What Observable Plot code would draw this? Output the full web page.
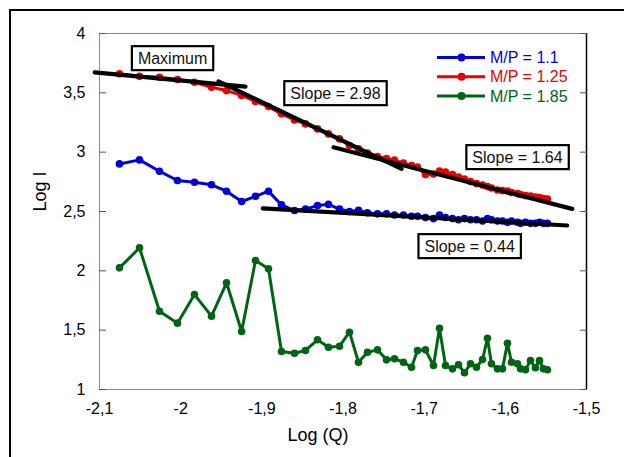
<!DOCTYPE html>
<html><head><meta charset="utf-8">
<script src="https://cdn.jsdelivr.net/npm/d3@7"></script>
<script src="https://cdn.jsdelivr.net/npm/@observablehq/plot@0.6"></script>
<style>
html,body{margin:0;padding:0;background:#fff;overflow:hidden;width:624px;height:457px}
#wrap{position:relative;width:624px;height:457px;font-family:"Liberation Sans",Arial,sans-serif}
#border{position:absolute;left:9px;top:9px;width:700px;height:520px;border-left:2px solid #000;border-top:2px solid #000;pointer-events:none}
#legend{position:absolute;left:0;top:0}
</style></head><body><div id="wrap"></div>
<script>
// Log(Q) positions shared by all three series
const logQ = [-2.0754,-2.0507,-2.0261,-2.0039,-1.9830,-1.9620,-1.9435,-1.9249,-1.9078,-1.8918,
  -1.8758,-1.8598,-1.8462,-1.8314,-1.8179,-1.8043,-1.7920,-1.7809,-1.7698,-1.7575,
  -1.7464,-1.7366,-1.7255,-1.7156,-1.7082,-1.6984,-1.6885,-1.6811,-1.6737,-1.6651,
  -1.6577,-1.6503,-1.6429,-1.6355,-1.6281,-1.6220,-1.6171,-1.6097,-1.6035,-1.5974,
  -1.5924,-1.5851,-1.5813,-1.5752,-1.5690,-1.5629,-1.5579,-1.5530,-1.5481];
const series = ["M/P = 1.1","M/P = 1.25","M/P = 1.85"];
const colors = ["#0000dc","#e60000","#006414"];
const logI_11 = [2.901,2.935,2.839,2.761,2.746,2.725,2.671,2.584,2.628,2.671,
  2.556,2.508,2.52,2.55,2.56,2.52,2.50,2.51,2.49,2.48,
  2.48,2.47,2.47,2.46,2.46,2.45,2.44,2.47,2.45,2.44,
  2.43,2.44,2.43,2.43,2.42,2.44,2.43,2.42,2.42,2.41,
  2.42,2.41,2.40,2.41,2.40,2.40,2.41,2.40,2.40];
const logI_125 = [3.660,3.639,3.631,3.612,3.589,3.547,3.519,3.478,3.427,3.384,
  3.323,3.272,3.238,3.196,3.154,3.112,3.056,3.028,2.992,2.963,
  2.946,2.933,2.908,2.887,2.874,2.811,2.816,2.841,2.832,2.811,
  2.790,2.773,2.752,2.735,2.723,2.710,2.698,2.681,2.676,2.672,
  2.660,2.651,2.643,2.634,2.630,2.622,2.618,2.609,2.605];
const logI_185 = [2.025,2.194,1.660,1.559,1.800,1.618,1.899,1.489,2.087,2.017,
  1.320,1.306,1.329,1.419,1.356,1.365,1.483,1.230,1.314,1.334,
  1.250,1.259,1.230,1.188,1.329,1.334,1.202,1.516,1.202,1.174,
  1.208,1.141,1.217,1.188,1.253,1.432,1.217,1.174,1.174,1.390,
  1.230,1.217,1.174,1.166,1.244,1.183,1.244,1.174,1.166];
const xTicks = [-2.1,-2,-1.9,-1.8,-1.7,-1.6,-1.5];
const yTicks = [1,1.5,2,2.5,3,3.5,4];
// fitted straight lines (endpoints)
const fitNames = ["max","s298","s164","s044"];
const fitX = [[-2.106,-1.9201],[-1.9534,-1.7279],[-1.8117,-1.5176],[-1.8988,-1.5238]];
const fitY = [[3.672,3.553],[3.597,2.859],[3.041,2.522],[2.527,2.382]];
const annText = ["Maximum","Slope = 2.98","Slope = 1.64","Slope = 0.44"];
const annX = [-2.010,-1.8093,-1.585,-1.644];
const annY = [3.789,3.494,2.955,2.205];

const allI = [logI_11, logI_125, logI_185];
const rows = [];
series.forEach((s,k)=>logQ.forEach((q,i)=>rows.push({series:s,x:q,y:allI[k][i]})));
const fitRows = [];
fitNames.forEach((n,k)=>fitX[k].forEach((x,i)=>fitRows.push({id:n,x,y:fitY[k][i]})));
const ann = annText.map((t,i)=>({text:t,x:annX[i],y:annY[i]}));
const fmt = d => String(d).replace(".", ",");
const font = "'Liberation Sans', Arial, sans-serif";

const plot = Plot.plot({
  width: 624, height: 457,
  marginLeft: 99, marginRight: 38, marginTop: 33, marginBottom: 68,
  style: {fontFamily: font, background: "transparent", color: "#000"},
  x: {domain: [-2.1, -1.5]},
  y: {domain: [1, 4]},
  color: {domain: series, range: colors},
  marks: [
    Plot.frame({stroke: "#8c8c8c"}),
    Plot.ruleX([xTicks[xTicks.length-1]], {stroke: "#000", strokeWidth: 1.5}),
    Plot.axisY({ticks: yTicks, tickFormat: fmt, tickSize: -7, tickPadding: 21, fontSize: 16, stroke: "#555", label: null}),
    Plot.axisY({anchor: "right", ticks: yTicks, tickSize: -7, text: null, stroke: "#555", label: null}),
    Plot.axisX({ticks: xTicks, tickFormat: fmt, tickSize: 0, tickPadding: 13, fontSize: 16, label: null}),
    Plot.text(["Log I"], {frameAnchor: "left", dx: -59, rotate: -90, fontSize: 18}),
    Plot.text(["Log (Q)"], {frameAnchor: "bottom", dx: -25, dy: 51, fontSize: 18}),
    Plot.line(rows, {x: "x", y: "y", z: "series", stroke: "series", strokeWidth: 3, curve: "linear"}),
    Plot.dot(rows, {x: "x", y: "y", fill: "series", r: 3.8}),
    Plot.line(fitRows, {x: "x", y: "y", z: "id", stroke: "#000", strokeWidth: 4.2, clip: false}),
    Plot.text(ann, {x: "x", y: "y", text: "text", fontSize: 16, fill: "#111"})
  ]
});
const wrap = document.getElementById("wrap");
wrap.appendChild(plot);

// boxes around annotation texts
plot.querySelectorAll("text").forEach(t => {
  if (!annText.includes(t.textContent)) return;
  const b = t.getBBox();
  const r = document.createElementNS("http://www.w3.org/2000/svg","rect");
  r.setAttribute("x", b.x - 6); r.setAttribute("y", b.y - 3.5);
  r.setAttribute("width", b.width + 12); r.setAttribute("height", b.height + 7);
  r.setAttribute("fill", "#fff"); r.setAttribute("stroke", "#000"); r.setAttribute("stroke-width", 2.2);
  if (t.getAttribute("transform")) r.setAttribute("transform", t.getAttribute("transform"));
  t.parentNode.insertBefore(r, t);
});

// legend overlay
const leg = d3.select(wrap).append("svg").attr("id","legend").attr("width",624).attr("height",457);
series.forEach((s,i)=>{
  const y = 57.5 + i*19.2;
  const gg = leg.append("g");
  gg.append("line").attr("x1",437).attr("x2",485).attr("y1",y).attr("y2",y).attr("stroke",colors[i]).attr("stroke-width",3);
  gg.append("circle").attr("cx",461.5).attr("cy",y).attr("r",4).attr("fill",colors[i]);
  gg.append("text").attr("x",490).attr("y",y).attr("dy","0.35em").attr("fill",colors[i])
    .attr("font-family",font).attr("font-size",16).text(s);
});
const bd = document.createElement("div"); bd.id = "border"; wrap.appendChild(bd);
</script></body></html>
